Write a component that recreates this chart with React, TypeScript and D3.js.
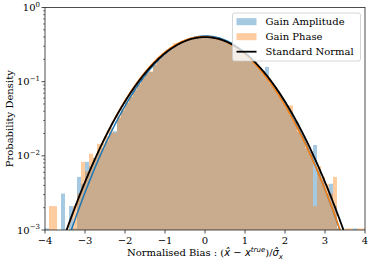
import React from 'react';
import * as d3 from 'd3';

// histogram bins: [binStart + i*binWidth, binStart + (i+1)*binWidth]
const binStart = -4;
const binWidth = 0.1;

// density per bin (0 = empty bin)
const gainAmplitude = [
  0.00105, 0, 0, 0, 0.0031, 0, 0.0021, 0.00105, 0.0052, 0.0042,
  0.0083, 0.0073, 0.0094, 0.0115, 0.0126, 0.0157, 0.0205, 0.0215, 0.0325, 0.041,
  0.0515, 0.062, 0.077, 0.092, 0.112, 0.129, 0.135, 0.168, 0.199, 0.224,
  0.252, 0.272, 0.305, 0.323, 0.35, 0.364, 0.388, 0.394, 0.41, 0.409,
  0.42, 0.405, 0.402, 0.384, 0.375, 0.352, 0.335, 0.306, 0.286, 0.255,
  0.235, 0.205, 0.184, 0.157, 0.14, 0.158, 0.094, 0.084, 0.067, 0.057,
  0.044, 0.036, 0.029, 0.021, 0.018, 0.0126, 0.0105, 0.014, 0.0063, 0.0047,
  0.0031, 0.0042, 0.0021, 0.00105, 0, 0, 0, 0.00105, 0, 0,
];

const gainPhase = [
  0, 0.0021, 0.0021, 0, 0, 0, 0, 0.0021, 0.0031, 0.0083,
  0.0062, 0.0107, 0.0094, 0.0145, 0.015, 0.0185, 0.024, 0.0205, 0.035, 0.044,
  0.056, 0.068, 0.08, 0.098, 0.118, 0.136, 0.138, 0.18, 0.205, 0.24,
  0.255, 0.28, 0.33, 0.325, 0.345, 0.365, 0.378, 0.388, 0.395, 0.402,
  0.398, 0.39, 0.385, 0.37, 0.358, 0.338, 0.322, 0.295, 0.278, 0.248,
  0.228, 0.2, 0.18, 0.156, 0.135, 0.12, 0.096, 0.085, 0.069, 0.056,
  0.046, 0.048, 0.03, 0.024, 0.019, 0.015, 0.0115, 0.0021, 0.0073, 0.0052,
  0.0042, 0.0031, 0.0052, 0.00105, 0, 0.00105, 0.00105, 0, 0.00105, 0.00105,
];

// fitted normal curves (mean, std)
const amplitudeFit = { mean: 0.015, std: 0.967 };
const phaseFit = { mean: -0.035, std: 0.985 };
const standardNormal = { mean: 0, std: 1 };

const xTicks = [-4, -3, -2, -1, 0, 1, 2, 3, 4];
const yTicks = [0, -1, -2, -3];

const legendItems = ['Gain Amplitude', 'Gain Phase', 'Standard Normal'];

const W = 374;
const H = 263;
const left = 45, right = 365, top = 7.5, bottom = 230;
const serif = '"DejaVu Serif", serif';
const sans = '"DejaVu Sans", sans-serif';

function pdf(p: { mean: number; std: number }, x: number) {
  const z = (x - p.mean) / p.std;
  return Math.exp(-0.5 * z * z) / (p.std * Math.sqrt(2 * Math.PI));
}

export default function App() {
  const x = d3.scaleLinear().domain([-4, 4]).range([left, right]);
  const y = d3.scaleLog().domain([1e-3, 1]).range([bottom, top]);

  const bars = (vals: number[], fill: string) =>
    vals.map((v, i) => {
      if (v <= 0) return null;
      const x0 = x(binStart + i * binWidth);
      const x1 = x(binStart + (i + 1) * binWidth);
      const yt = y(v);
      return <rect key={i} x={x0} y={yt} width={x1 - x0} height={bottom - yt} fill={fill} />;
    });

  const grid = d3.range(-4, 4.0001, 0.02);
  const line = d3.line<number>().x(d => x(d));
  const curve = (p: { mean: number; std: number }) =>
    line.y(d => y(Math.max(pdf(p, d), 1e-5)))(grid) as string;

  const minor: number[] = [];
  for (let e = -3; e < 0; e++) for (let k = 2; k <= 9; k++) minor.push(k * Math.pow(10, e));

  return (
    <svg width={W} height={H} style={{ position: 'absolute', left: 0, top: 0, background: '#fff' }}>
      <defs>
        <clipPath id="plot">
          <rect x={left} y={top} width={right - left} height={bottom - top} />
        </clipPath>
      </defs>
      <g clipPath="url(#plot)">
        <g fillOpacity={0.4}>
          <g>{bars(gainAmplitude, '#1f77b4')}</g>
          <g>{bars(gainPhase, '#ff7f0e')}</g>
        </g>
        <path d={curve(amplitudeFit)} fill="none" stroke="#1f77b4" strokeWidth={1.5} />
        <path d={curve(phaseFit)} fill="none" stroke="#ff7f0e" strokeWidth={1.5} />
        <path d={curve(standardNormal)} fill="none" stroke="#000" strokeWidth={1.8} />
      </g>

      <rect x={left} y={top} width={right - left} height={bottom - top} fill="none" stroke="#222" strokeWidth={0.8} />

      {xTicks.map(t => (
        <g key={t}>
          <line x1={x(t)} x2={x(t)} y1={bottom} y2={bottom + 3.5} stroke="#222" strokeWidth={0.8} />
          <text x={x(t)} y={bottom + 14} textAnchor="middle" fontFamily={serif} fontSize={10}>
            {t < 0 ? '\u2212' + Math.abs(t) : String(t)}
          </text>
        </g>
      ))}

      {minor.map((m, i) => (
        <line key={i} x1={left - 2} x2={left} y1={y(m)} y2={y(m)} stroke="#222" strokeWidth={0.6} />
      ))}
      {yTicks.map(e => (
        <g key={e}>
          <line x1={left - 3.5} x2={left} y1={y(Math.pow(10, e))} y2={y(Math.pow(10, e))} stroke="#222" strokeWidth={0.8} />
          <text x={left - 5} y={y(Math.pow(10, e)) + 3.5} textAnchor="end" fontFamily={serif} fontSize={10}>
            10
            <tspan fontSize={7} dy={-4.5}>{e < 0 ? '\u2212' + Math.abs(e) : String(e)}</tspan>
          </text>
        </g>
      ))}

      <text transform={`translate(12.5,${(top + bottom) / 2}) rotate(-90)`} textAnchor="middle" fontFamily={serif} fontSize={10}>
        Probability Density
      </text>

      <text x={(left + right) / 2} y={256} textAnchor="middle" fontFamily={serif} fontSize={10}>
        Normalised Bias : (
        <tspan fontFamily={sans} fontStyle="italic">{'x\u0302'}</tspan>
        <tspan fontFamily={sans}>{' \u2212 '}</tspan>
        <tspan fontFamily={sans} fontStyle="italic">x</tspan>
        <tspan fontFamily={sans} fontStyle="italic" fontSize={7} dy={-4}>true</tspan>
        <tspan dy={4}>)/</tspan>
        <tspan fontFamily={sans} fontStyle="italic">{'\u03c3\u0302'}</tspan>
        <tspan fontFamily={sans} fontStyle="italic" fontSize={7} dy={2.5}>x</tspan>
      </text>

      <g transform="translate(232.5,13)">
        <rect x={0} y={0} width={128} height={48} rx={2} fill="#fff" fillOpacity={0.8} stroke="#ccc" strokeWidth={0.8} />
        {legendItems.map((name, i) => (
          <g key={name} transform={`translate(0,${8.7 + i * 15})`}>
            {i < 2 ? (
              <rect x={4} y={-3.5} width={20} height={7} fill={i === 0 ? '#1f77b4' : '#ff7f0e'} fillOpacity={0.4} />
            ) : (
              <line x1={4} x2={24} y1={0} y2={0} stroke="#000" strokeWidth={1.8} />
            )}
            <text x={33} y={3.5} fontFamily={serif} fontSize={10}>{name}</text>
          </g>
        ))}
      </g>
    </svg>
  );
}
